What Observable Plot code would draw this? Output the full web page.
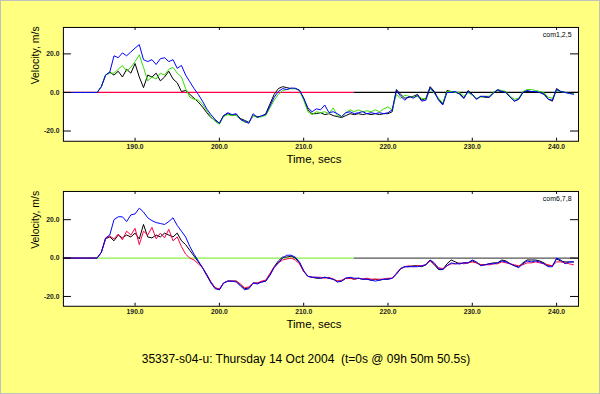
<!DOCTYPE html>
<html>
<head>
<meta charset="utf-8">
<script src="https://cdn.jsdelivr.net/npm/d3@7"></script>
<script src="https://cdn.jsdelivr.net/npm/@observablehq/plot@0.6"></script>
<style>
  html, body { margin: 0; padding: 0; }
  #page { position: relative; width: 600px; height: 394px; background: #ffff80; box-sizing: border-box; border: 1px solid #c0c0c0; overflow: hidden; font-family: "Liberation Sans", Arial, sans-serif; }
  .panel { position: absolute; left: -1px; }
  #title { position: absolute; left: 10px; width: 590px; top: 350px; text-align: center; font-size: 12px; line-height: 16px; white-space: pre; color: #000; }
</style>
</head>
<body>
<div id="page">
  <div class="panel" id="p1" style="top:-1px"></div>
  <div class="panel" id="p2" style="top:164px"></div>
  <div id="title"></div>
</div>
<script>
// ---- data ----
const titleText = "35337-s04-u: Thursday 14 Oct 2004  (t=0s @ 09h 50m 50.5s)";
const xTicks = [190, 200, 210, 220, 230, 240];
const yTicks = [-20, 0, 20];
const refSplit = 216;           // reference line changes colour here
const panelLabels = ["com1,2,5", "com6,7,8"];

const times = [
  181.5,182,182.5,183,183.5,184,184.5,185,185.5,186,
  186.5,187,187.5,188,188.5,189,189.5,190,190.5,191,
  191.5,192,192.5,193,193.5,194,194.5,195,195.5,196,
  196.5,197,197.5,198,198.5,199,199.5,200,200.5,201,
  201.5,202,202.5,203,203.5,204,204.5,205,205.5,206,
  206.5,207,207.5,208,208.5,209,209.5,210,210.5,211,
  211.5,212,212.5,213,213.5,214,214.5,215,215.5,216,
  216.5,217,217.5,218,218.5,219,219.5,220,220.5,221,
  221.5,222,222.5,223,223.5,224,224.5,225,225.5,226,
  226.5,227,227.5,228,228.5,229,229.5,230,230.5,231,
  231.5,232,232.5,233,233.5,234,234.5,235,235.5,236,
  236.5,237,237.5,238,238.5,239,239.5,240,240.5,241,
  241.5,242
];

// top panel (com1,2,5)
const top_black = [
  0,0,0,0,0,0,0,0,0,3,
  9,10.5,9,11,8,12,10,15,8,2.5,
  9,8,10,6,8,11,7,5,0.5,1,
  -1,-3,-5,-7.5,-10.5,-13,-14.5,-16,-12,-11,
  -12,-11.5,-13.5,-14.5,-15.5,-12,-12.5,-12.5,-11,-6,
  -1,2,3,2.5,2,2,1,-3,-9,-11,
  -11,-10.5,-11.5,-11,-12,-12.5,-13,-12,-11,-11.5,
  -11,-11.5,-11,-11.5,-11,-11.5,-11,-11,-10,1.5,
  -1,-3,-2.5,-2,-1,-4,-3,3,0.5,-3.5,
  -6,1,0.5,0,-0.5,-3,1,-1,-3.5,-2,
  -2.5,-2.5,0,1,0.5,0,-2.5,-4.5,-3.5,0,
  0.5,0.5,0,0,-0.5,-3.5,-4.5,2,0.5,0,
  0,-0.5
];
const top_green = [
  0,0,0,0,0,0,0,0,0,3,
  9,10,10,12,14,11,13,16,19.5,13,
  6,8,7,10,9,12,13,10,8,2,
  -2.5,-3.5,-4,-6,-9.5,-12.5,-15,-16.5,-12.5,-11.5,
  -12,-12,-14,-15.5,-15.5,-12,-13,-12.5,-12,-8,
  -4,-1,1,1.5,2,2,1,-4,-10,-11.5,
  -10,-10.5,-10,-11,-8,-12,-12.5,-10.5,-9,-10,
  -9,-10,-9.5,-10,-9,-10,-8.5,-7.5,-9,-1,
  -3,-1.5,-2,-2.5,-2,-3,-3.5,2,-0.5,-3,
  -5.5,0.5,0.5,0,0,-2,0,-1.5,-3,-2.5,
  -2,-2,0,1.5,1,0.5,-2,-3.5,-3,0.5,
  1.5,1.5,1,0.5,0,-2.5,-3,1,0.5,0,
  -0.5,-0.5
];
const top_blue = [
  0,0,0,0,0,0,0,0,0,3,
  9,10.5,19,18,20.5,19,21,23,24.8,17,
  16,17,14.5,17.5,18,16,17,12.5,14,9,
  5.5,2,-1,-4.5,-8.5,-11.5,-14,-16,-12,-10.5,
  -11.5,-11,-14,-15,-16,-11,-13,-12,-11.5,-7,
  -2.5,0.5,2,1.5,2.3,2.2,1.2,-3,-8,-10,
  -8.5,-9,-6.5,-10.5,-10,-11,-12.5,-10.5,-10,-11,
  -10.5,-10,-11,-10.5,-11,-10.5,-11,-10.5,-9,1,
  -2,-4,-2,-3,-1.5,-4.5,-4,2.5,0,-4,
  -6.5,0,0,0.5,-1,-3,0.5,-1,-3.5,-2,
  -2,-2.5,-0.5,1.5,0.5,0,-2.5,-4.5,-3.5,0,
  1,0.5,0.5,0,-1,-3.5,-4,1.5,0.5,0,
  -0.5,-1
];

// bottom panel (com6,7,8)
const bot_black = [
  0,0,0,0,0,0,0,0,0,3,
  10,11,9,12,10.5,12,11,13,10,17.5,
  11,10.5,12,11,13,12,11,13,9,7,
  4,1,-2,-5,-8.5,-12.5,-15.5,-16.5,-13,-12,
  -12,-12,-14,-16,-15.5,-13,-13,-12.5,-12,-8.5,
  -4.5,-1.5,0.5,0.5,1,0,-2.5,-7,-9.5,-10,
  -10.5,-10.5,-10,-10.5,-11,-12,-12,-10.5,-10.5,-11,
  -10.5,-11,-11,-11.5,-11,-11.5,-11,-11,-10.5,-8,
  -5.5,-4.5,-4.5,-4,-4,-4.5,-3.5,-1,-3.5,-6,
  -6,-3,-1,-2,-3,-2.5,-2.5,-1.5,-2.5,-3.5,
  -3.5,-3,-2.5,-2.5,-1,-1.5,-3,-4,-4.5,-2.5,
  -1,-1,-1,-1.5,-2.5,-4,-4,-0.5,-1.5,-2,
  -2,-2
];
const bot_red = [
  0,0,0,0,0,0,0,0,0,3,
  10,11.5,10,12.5,9.5,14,12,15.5,7,14,
  12,16,10,13,10.5,15,9,11,6,2,
  0,-1,-3,-5,-9,-12.5,-15.5,-16,-13,-12,
  -12,-12,-13.5,-15.5,-15,-13,-13,-12,-11.5,-8,
  -4.5,-2.5,-1,-0.5,0,-1,-3,-7,-9.5,-10,
  -10,-10,-10.5,-10,-11,-12,-11.5,-10.5,-10.5,-11,
  -10.5,-11,-10.5,-11,-11,-11,-11,-10.5,-10.5,-8,
  -5.5,-4.5,-4,-4.5,-4,-4,-3.5,-1.5,-3.5,-5,
  -5.5,-4,-3,-3,-2.5,-3,-2.5,-2,-2.5,-3.5,
  -3.5,-3.5,-3,-3,-2,-2.5,-3,-3.5,-4,-3.5,
  -2.5,-2.5,-2,-2.5,-3,-3.5,-4,-2,-2,-2.5,
  -3,-3.5
];
const bot_blue = [
  0,0,0,0,0,0,0,0,0,3,
  10.5,12,20,21.5,21.5,19,22.5,23,26,24,
  21,19.5,18.5,18,17.5,19,21,17,14,11,
  6,2,-1.5,-5,-9,-13,-16,-16.5,-13,-12,
  -12,-12.5,-14.5,-16.5,-16,-13,-13.5,-12.5,-12,-9,
  -5,-2.5,0,1.5,1.5,0.5,-2,-6.5,-9.5,-10,
  -10,-10.5,-10,-10.5,-11,-12.5,-12,-10.5,-10,-10.5,
  -10.5,-11,-11,-11.5,-12,-11.5,-11,-11,-10.5,-8.5,
  -5.5,-4.5,-4.5,-4.5,-4.5,-4,-3.5,-1,-2.5,-5.5,
  -6,-4,-2.5,-3,-3,-2.5,-2.5,-1,-2,-4,
  -3.5,-3,-3,-2.5,-1.5,-2,-3,-4,-5,-3,
  -1.5,-2,-1.5,-2,-3,-4.5,-4.5,0,-1,-3,
  -2,-2
];

// ---- drawing ----
const FONT = "'Liberation Sans', Arial, sans-serif";
const X_DOMAIN = [181.5, 242.6];

function toRows(arr) { return times.map((t, i) => ({t, v: arr[i]})); }

function panel({series, yDomain, refColors, label, marginTop}) {
  const W = 600, H = 170, ML = 63, MR = 21, MB = 29;
  const fw = W - ML - MR, fh = H - marginTop - MB;
  return Plot.plot({
    width: W, height: H,
    marginLeft: ML, marginRight: MR, marginTop, marginBottom: MB,
    style: {background: "transparent", fontFamily: FONT, overflow: "visible", color: "#000"},
    x: {domain: X_DOMAIN},
    y: {domain: yDomain},
    marks: [
      Plot.frame({fill: "white", stroke: null}),
      Plot.ruleY([0], {x1: X_DOMAIN[0], x2: refSplit, stroke: refColors[0], strokeWidth: 1.2}),
      Plot.ruleY([0], {x1: refSplit, x2: X_DOMAIN[1], stroke: refColors[1], strokeWidth: 1.2}),
      ...series.map(s => Plot.line(toRows(s.values), {x: "t", y: "v", stroke: s.color, strokeWidth: 1})),
      // inward ticks
      Plot.ruleX(xTicks, {x: d => d, insetBottom: fh - 3, stroke: "#000"}),
      Plot.ruleX(xTicks, {x: d => d, insetTop: fh - 3, stroke: "#000"}),
      Plot.ruleY(yTicks, {y: d => d, insetRight: fw - 8, stroke: "#000"}),
      Plot.ruleY(yTicks, {y: d => d, insetLeft: fw - 8, stroke: "#000"}),
      Plot.axisX(xTicks, {anchor: "bottom", tickSize: 0, tickPadding: 3, tickFormat: d => d.toFixed(1), label: null, fontSize: 6.8, fontWeight: "bold", fill: "#222"}),
      Plot.axisY(yTicks, {anchor: "left", tickSize: 0, tickPadding: 4, tickFormat: d => d.toFixed(1), label: null, fontSize: 6.8, fontWeight: "bold", fill: "#222"}),
      Plot.text(["Velocity, m/s"], {text: d => d, frameAnchor: "left", lineAnchor: "middle", dx: -28, rotate: -90, fontSize: 10.5, fill: "#000"}),
      Plot.text(["Time, secs"], {text: d => d, frameAnchor: "bottom", lineAnchor: "middle", dx: -7, dy: 18, fontSize: 11.5, fill: "#000"}),
      Plot.text([label], {text: d => d, frameAnchor: "top-right", lineAnchor: "middle", textAnchor: "end", dx: -7, dy: 7, fontSize: 7, fill: "#000"}),
      Plot.frame({stroke: "#000", strokeWidth: 1})
    ]
  });
}

document.getElementById("p1").appendChild(panel({
  series: [
    {values: top_black, color: "#000000"},
    {values: top_green, color: "#33dd00"},
    {values: top_blue, color: "#0000ff"}
  ],
  yDomain: [-25.3, 33.7],
  refColors: ["#ff0044", "#000000"],
  label: panelLabels[0],
  marginTop: 27
}));

document.getElementById("p2").appendChild(panel({
  series: [
    {values: bot_black, color: "#000000"},
    {values: bot_red, color: "#ff0044"},
    {values: bot_blue, color: "#0000ff"}
  ],
  yDomain: [-25.1, 34.7],
  refColors: ["#88ee44", "#555555"],
  label: panelLabels[1],
  marginTop: 26
}));

document.getElementById("title").textContent = titleText;
</script>
</body>
</html>
